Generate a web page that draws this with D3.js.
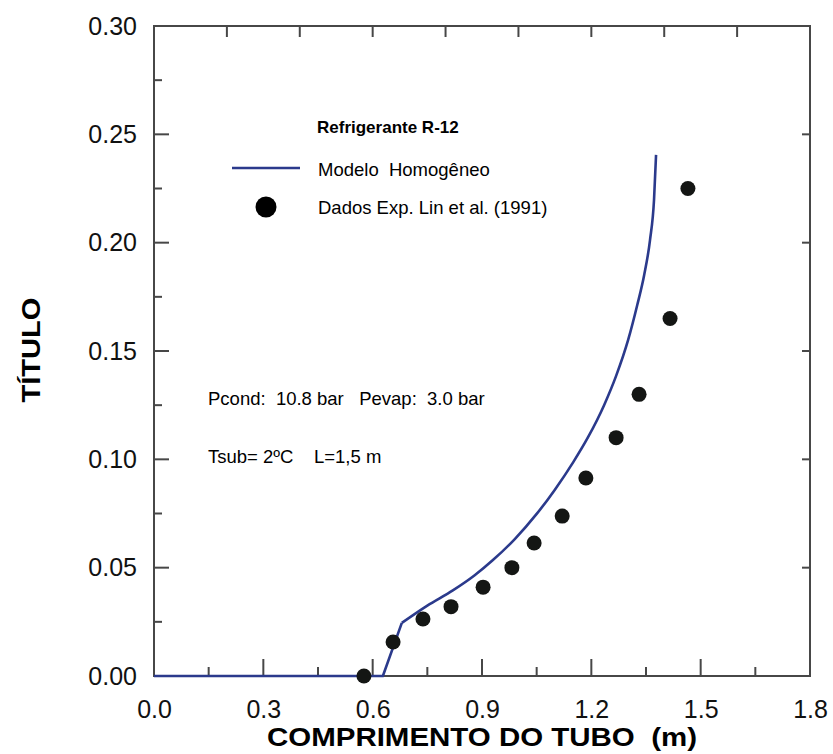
<!DOCTYPE html>
<html>
<head>
<meta charset="utf-8">
<script src="https://cdn.jsdelivr.net/npm/d3@7"></script>
<style>
  body { margin: 0; background: #fff; }
  svg { display: block; font-family: "Liberation Sans", Arial, sans-serif; }
</style>
</head>
<body>
<div id="chart"></div>
<script>
// model line (Modelo Homogêneo) - straight part then curved part
var modelStart = [[0, 0], [0.628, 0], [0.68, 0.0245]]
var modelCurve = [
  [0.68, 0.0245], [0.75, 0.0325], [0.82, 0.0395], [0.88, 0.0465], [0.93, 0.0535],
  [0.99, 0.0632], [1.05, 0.0748], [1.10, 0.0860], [1.15, 0.0986], [1.191, 0.1102],
  [1.235, 0.1250], [1.268, 0.1385], [1.301, 0.1551], [1.326, 0.1712], [1.345, 0.1851],
  [1.361, 0.2012], [1.372, 0.2197], [1.3776, 0.2405]
]
// experimental points, Lin et al. (1991)
var expX = [0.576, 0.656, 0.738, 0.815, 0.903, 0.982, 1.043, 1.120, 1.185, 1.268, 1.331, 1.416, 1.465]
var expY = [0.0, 0.0157, 0.0263, 0.032, 0.041, 0.050, 0.0614, 0.0738, 0.0914, 0.110, 0.130, 0.165, 0.225]

var xMajor = [0, 0.3, 0.6, 0.9, 1.2, 1.5, 1.8],
    xMinor = [0.15, 0.45, 0.75, 1.05, 1.35, 1.65],
    yMajor = [0, 0.05, 0.10, 0.15, 0.20, 0.25, 0.30],
    yMinor = [0.025, 0.075, 0.125, 0.175, 0.225, 0.275],
    topTicks = [0.2, 0.4, 0.6, 0.8, 1.0, 1.2, 1.4, 1.6],
    rightTicks = [0.05, 0.10, 0.15, 0.20, 0.25]

var svgWidth = 833, svgHeight = 754
var margin = { top: 26, right: 23, bottom: 78, left: 154 }
var width = svgWidth - margin.left - margin.right,
    height = svgHeight - margin.top - margin.bottom

var lineColor = '#2b3a8c', axisColor = '#474747'

var svg = d3.select('#chart').append('svg')
    .attr('width', svgWidth)
    .attr('height', svgHeight)
var g = svg.append('g')
    .attr('transform', 'translate(' + margin.left + ',' + margin.top + ')')

var x = d3.scaleLinear().domain([0, 1.8]).range([0, width])
var y = d3.scaleLinear().domain([0, 0.30]).range([height, 0])

// tick labels only, ticks are drawn inward below
function styleAxis(sel) {
    sel.select('.domain').remove()
    sel.selectAll('.tick line').remove()
    sel.selectAll('text').attr('fill', '#111').style('font-size', '25px')
}
g.append('g').attr('transform', 'translate(0,' + height + ')')
    .call(d3.axisBottom(x).tickValues(xMajor).tickFormat(d3.format('.1f')).tickSize(0).tickPadding(24))
    .call(styleAxis)
g.append('g')
    .call(d3.axisLeft(y).tickValues(yMajor).tickFormat(d3.format('.2f')).tickSize(0).tickPadding(17))
    .call(styleAxis)

// inward tick marks
function ticks(values, side, len) {
    var horiz = side === 'bottom' || side === 'top'
    g.append('g').selectAll('line')
        .data(values)
        .enter().append('line')
        .attr('stroke', axisColor)
        .attr('stroke-width', 2)
        .attr('x1', d => horiz ? x(d) : (side === 'left' ? 0 : width))
        .attr('x2', d => horiz ? x(d) : (side === 'left' ? len : width - len))
        .attr('y1', d => !horiz ? y(d) : (side === 'bottom' ? height : 0))
        .attr('y2', d => !horiz ? y(d) : (side === 'bottom' ? height - len : len))
}
ticks(xMajor, 'bottom', 17)
ticks(xMinor, 'bottom', 9)
ticks(yMajor, 'left', 15)
ticks(yMinor, 'left', 8)
ticks(topTicks, 'top', 11)
ticks(rightTicks, 'right', 8)

// frame
g.append('rect')
    .attr('width', width).attr('height', height)
    .attr('fill', 'none').attr('stroke', axisColor).attr('stroke-width', 2)

// model line
var line = d3.line().x(d => x(d[0])).y(d => y(d[1]))
g.append('path').datum(modelStart)
    .attr('d', line)
    .attr('fill', 'none').attr('stroke', lineColor).attr('stroke-width', 2.6)
    .attr('stroke-linejoin', 'round')
g.append('path').datum(modelCurve)
    .attr('d', line.curve(d3.curveMonotoneX))
    .attr('fill', 'none').attr('stroke', lineColor).attr('stroke-width', 2.6)

// experimental points
g.selectAll('circle.exp')
    .data(expX.map((v, i) => [v, expY[i]]))
    .enter().append('circle')
    .attr('class', 'exp')
    .attr('cx', d => x(d[0]))
    .attr('cy', d => y(d[1]))
    .attr('r', 7.5)
    .attr('fill', '#141614')

// legend
svg.append('text')
    .attr('x', 317).attr('y', 133)
    .style('font-size', '17px').style('font-weight', 'bold')
    .text('Refrigerante R-12')
svg.append('line')
    .attr('x1', 232).attr('x2', 300).attr('y1', 168).attr('y2', 168)
    .attr('stroke', lineColor).attr('stroke-width', 2.6)
svg.append('text')
    .attr('x', 318).attr('y', 176)
    .style('font-size', '18.5px')
    .style('white-space', 'pre')
    .text('Modelo  Homogêneo')
svg.append('circle')
    .attr('cx', 266).attr('cy', 207).attr('r', 10.5)
    .attr('fill', '#000')
svg.append('text')
    .attr('x', 318).attr('y', 214)
    .style('font-size', '18.5px')
    .text('Dados Exp. Lin et al. (1991)')

// conditions
svg.append('text')
    .attr('x', 208).attr('y', 405)
    .style('font-size', '18.5px')
    .style('white-space', 'pre')
    .text('Pcond:  10.8 bar   Pevap:  3.0 bar')
svg.append('text')
    .attr('x', 208).attr('y', 463)
    .style('font-size', '18.5px')
    .style('white-space', 'pre')
    .text('Tsub= 2ºC    L=1,5 m')

// axis titles
svg.append('text')
    .attr('x', margin.left + width / 2).attr('y', 746)
    .attr('text-anchor', 'middle')
    .attr('textLength', 430).attr('lengthAdjust', 'spacingAndGlyphs')
    .style('font-size', '26px').style('font-weight', 'bold')
    .style('white-space', 'pre')
    .text('COMPRIMENTO DO TUBO  (m)')
svg.append('text')
    .attr('transform', 'translate(40,350) rotate(-90)')
    .attr('text-anchor', 'middle')
    .attr('textLength', 105).attr('lengthAdjust', 'spacingAndGlyphs')
    .style('font-size', '25px').style('font-weight', 'bold')
    .text('TÍTULO')
</script>
</body>
</html>
